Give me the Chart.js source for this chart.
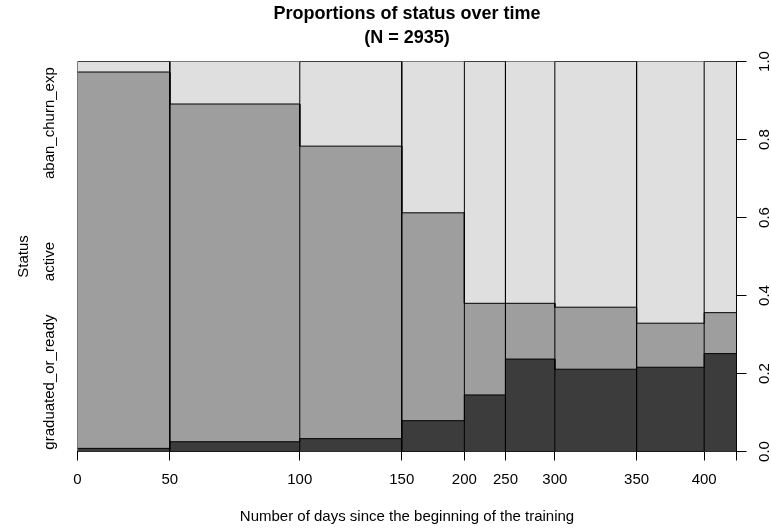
<!DOCTYPE html>
<html>
<head>
<meta charset="utf-8">
<script src="https://cdn.jsdelivr.net/npm/chart.js@4"></script>
<style>
html, body { margin: 0; padding: 0; background: #fff; }
canvas { display: block; }
</style>
</head>
<body>
<canvas id="c" width="771" height="530"></canvas>
<script>
// ---- data ----
const xTickLabels = ['0', '50', '100', '150', '200', '250', '300', '350', '400', ''];
const binCounts = [411, 579, 454, 279, 183, 220, 364, 301, 144];   // N = 2935
const statusNames = ['graduated_or_ready', 'active', 'aban_churn_exp'];
const graduated = [0.008, 0.025, 0.033, 0.079, 0.145, 0.237, 0.211, 0.216, 0.251];
const active    = [0.965, 0.866, 0.750, 0.533, 0.235, 0.143, 0.159, 0.113, 0.105];
const abandoned = [0.027, 0.109, 0.217, 0.388, 0.620, 0.620, 0.630, 0.671, 0.644];
const yTickValues = [0, 0.2, 0.4, 0.6, 0.8, 1];
const yTickLabels = ['0.0', '0.2', '0.4', '0.6', '0.8', '1.0'];
const statusLabelAt = [0.178, 0.487, 0.842];

// ---- derived tables ----
const bounds = [0];
binCounts.forEach(c => bounds.push(bounds[bounds.length - 1] + c));
const total = bounds[bounds.length - 1];

function stepData(vals) {
  const d = [];
  vals.forEach((v, i) => { d.push({x: bounds[i], y: v}); d.push({x: bounds[i + 1], y: v}); });
  return d;
}
const cumGrad = graduated.slice();
const cumActive = graduated.map((g, i) => g + active[i]);
const cumAll = cumActive.map((c, i) => c + abandoned[i]);

const dividers = [];
bounds.forEach((b, i) => {
  const up = i % 2 === 0;
  dividers.push({x: b, y: up ? 0 : 1});
  dividers.push({x: b, y: up ? 1 : 0});
});

const FONT = '"Liberation Sans", Arial, Helvetica, sans-serif';
Chart.defaults.font.family = FONT;
Chart.defaults.color = '#000';

const textPlugin = {
  id: 'rotText',
  beforeDraw(chart) {
    const c = chart.ctx;
    c.save(); c.fillStyle = '#fff'; c.fillRect(0, 0, chart.width, chart.height); c.restore();
  },
  afterDraw(chart) {
    const ctx = chart.ctx, ys = chart.scales.y, area = chart.chartArea;
    ctx.save();
    ctx.fillStyle = '#000';
    ctx.font = '15px ' + FONT;
    ctx.textAlign = 'center';
    ctx.textBaseline = 'middle';
    const rot = (text, x, py) => {
      ctx.save(); ctx.translate(x, py); ctx.rotate(-Math.PI / 2); ctx.fillText(text, 0, 0); ctx.restore();
    };
    yTickValues.forEach((v, i) => rot(yTickLabels[i], area.right + 28, ys.getPixelForValue(v)));
    statusNames.forEach((s, i) => rot(s, area.left - 27.5, ys.getPixelForValue(statusLabelAt[i])));
    rot('Status', area.left - 54, ys.getPixelForValue(0.5));
    ctx.restore();
  }
};

const lineBase = {borderColor: '#000', borderWidth: 1, pointRadius: 0, tension: 0};

new Chart(document.getElementById('c'), {
  type: 'line',
  data: {
    datasets: [
      Object.assign({label: 'dividers', data: dividers, fill: false}, lineBase),
      Object.assign({label: statusNames[0], data: stepData(cumGrad), fill: 'origin', backgroundColor: '#3c3c3c'}, lineBase),
      Object.assign({label: statusNames[1], data: stepData(cumActive), fill: 'origin', backgroundColor: '#9e9e9e'}, lineBase),
      Object.assign({label: statusNames[2], data: stepData(cumAll), fill: 'origin', backgroundColor: '#dfdfdf'}, lineBase)
    ]
  },
  options: {
    responsive: false,
    animation: false,
    devicePixelRatio: 1,
    layout: {padding: {left: 77.5, right: 0, top: 0, bottom: 0}},
    plugins: {
      legend: {display: false},
      tooltip: {enabled: false},
      title: {
        display: true,
        fullSize: false,
        text: ['Proportions of status over time', '(N = 2935)'],
        color: '#000',
        font: {size: 18, weight: 'bold', lineHeight: 24 / 18},
        padding: {top: 2, bottom: 11.5}
      }
    },
    scales: {
      x: {
        type: 'linear', position: 'bottom', min: 0, max: total,
        afterBuildTicks: s => { s.ticks = bounds.map(v => ({value: v})); },
        afterFit: s => { s.height = 78.5; },
        ticks: {autoSkip: false, maxRotation: 0, minRotation: 0, padding: 10, color: '#000',
                font: {size: 15}, callback: (v, i) => xTickLabels[i]},
        grid: {drawOnChartArea: false, drawTicks: true, tickLength: 9, color: '#000', lineWidth: 1},
        border: {display: true, color: '#000', width: 1},
        title: {display: true, text: 'Number of days since the beginning of the training',
                color: '#000', font: {size: 15}, padding: {top: 0, bottom: 4}}
      },
      y: {
        type: 'linear', position: 'right', min: 0, max: 1,
        afterBuildTicks: s => { s.ticks = yTickValues.map(v => ({value: v})); },
        afterFit: s => { s.width = 34.5; },
        ticks: {display: false},
        grid: {drawOnChartArea: false, drawTicks: true, tickLength: 10, color: '#000'},
        border: {display: true, color: '#000', width: 1}
      }
    }
  },
  plugins: [textPlugin]
});
</script>
</body>
</html>
